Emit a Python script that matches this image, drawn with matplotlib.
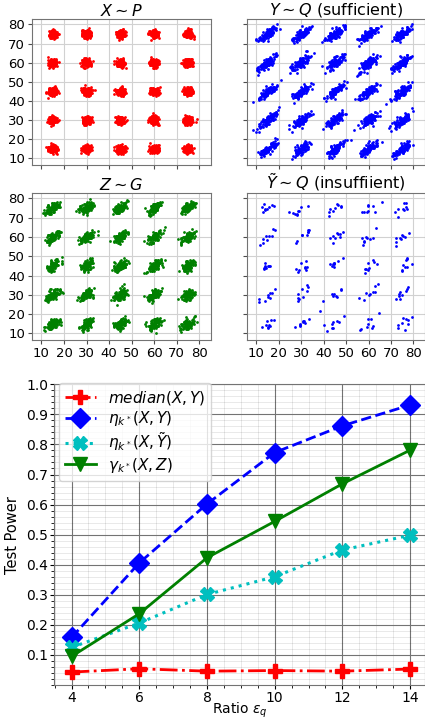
import numpy as np
import matplotlib
matplotlib.use('Agg')
import matplotlib.pyplot as plt
from matplotlib.ticker import MultipleLocator

# Cluster centres of the 5x5 grid (both axes)
grid_centers = [15, 30, 45, 60, 75]

# Per-panel sample cloud settings:
# (points per cluster, std along x, std along y, correlation)
cloud_P = (140, 1.0, 1.0, 0.0)
cloud_Q = (90, 2.1, 2.1, 0.8)
cloud_G = (90, 1.6, 1.6, 0.55)
cloud_Qt = (9, 2.2, 2.2, 0.75)

# Line chart data
ratios = [4, 6, 8, 10, 12, 14]
power_median = [0.043, 0.054, 0.046, 0.048, 0.046, 0.053]
power_eta_xy = [0.158, 0.406, 0.602, 0.773, 0.862, 0.931]
power_eta_xyt = [0.125, 0.206, 0.301, 0.360, 0.449, 0.498]
power_gamma_xz = [0.095, 0.237, 0.423, 0.544, 0.669, 0.781]

rng = np.random.default_rng(3)


def sample_grid(n, sx, sy, rho):
    cov = [[sx * sx, rho * sx * sy], [rho * sx * sy, sy * sy]]
    pts = []
    for cx in grid_centers:
        for cy in grid_centers:
            pts.append(rng.multivariate_normal([cx, cy], cov, size=n))
    return np.vstack(pts)


fig = plt.figure(figsize=(4.25, 7.23), dpi=100)

panels = [
    ([32 / 425, 1 - 165 / 723, 179 / 425, 146 / 723], cloud_P, 'red', r'$X \sim P$'),
    ([247 / 425, 1 - 165 / 723, 178 / 425, 146 / 723], cloud_Q, 'blue', r'$Y \sim Q$ (sufficient)'),
    ([32 / 425, 1 - 340 / 723, 179 / 425, 147 / 723], cloud_G, 'green', r'$Z \sim G$'),
    ([247 / 425, 1 - 340 / 723, 178 / 425, 147 / 723], cloud_Qt, 'blue', r'$\tilde{Y} \sim Q$ (insuffiient)'),
]

for i, (rect, cloud, color, title) in enumerate(panels):
    ax = fig.add_axes(rect)
    pts = sample_grid(*cloud)
    ax.scatter(pts[:, 0], pts[:, 1], s=4, c=color, linewidths=0)
    ax.set_xlim(5.8, 85.2)
    ax.set_ylim(6.6, 82.8)
    ax.set_xticks(range(10, 81, 10))
    ax.set_yticks(range(10, 81, 10))
    ax.grid(True, color='0.82', lw=0.8)
    ax.set_axisbelow(True)
    ax.set_title(title, fontsize=11.5, pad=2)
    ax.tick_params(labelsize=9.5, color='0.3', length=3, pad=2)
    for sp in ax.spines.values():
        sp.set_color('0.45')
    if i < 2:
        ax.tick_params(labelbottom=False)
    if i % 2 == 1:
        ax.tick_params(labelleft=False)

# Test power chart
ax = fig.add_axes([54.3 / 425, 1 - 685 / 723, 371 / 425, 300.7 / 723])
ax.plot(ratios, power_median, color='red', ls='-.', lw=2, marker='P', ms=10,
        label=r'$median(X,Y)$')
ax.plot(ratios, power_eta_xy, color='blue', ls='--', lw=2, marker='D', ms=10,
        label=r'$\eta_{k^*}(X,Y)$')
ax.plot(ratios, power_eta_xyt, color='c', ls=':', lw=2.2, marker='X', ms=10,
        label=r'$\eta_{k^*}(X,\tilde{Y})$')
ax.plot(ratios, power_gamma_xz, color='green', ls='-', lw=2, marker='v', ms=10,
        label=r'$\gamma_{k^*}(X,Z)$')

ax.set_xlim(3.49, 14.45)
ax.set_ylim(0.0, 1.0)
ax.set_xticks(ratios)
ax.set_yticks(np.arange(0.1, 1.01, 0.1))
ax.xaxis.set_minor_locator(MultipleLocator(0.5))
ax.yaxis.set_minor_locator(MultipleLocator(0.02))
ax.grid(True, which='major', color='0.45', lw=0.8)
ax.grid(True, which='minor', color='k', alpha=0.1, lw=0.6)
ax.set_axisbelow(True)
ax.tick_params(labelsize=10, pad=1.5, length=3)
ax.tick_params(which='minor', length=2)
for sp in ax.spines.values():
    sp.set_color('0.45')
ax.set_xlabel(r'Ratio $\varepsilon_q$', fontsize=10, labelpad=-3)
ax.set_ylabel('Test Power', fontsize=10.5, labelpad=4)
ax.legend(loc='upper left', fontsize=11, handlelength=2, labelspacing=0.15,
          borderaxespad=0.3, bbox_to_anchor=(0.0, 1.02))

plt.savefig('out.png', dpi=100)
